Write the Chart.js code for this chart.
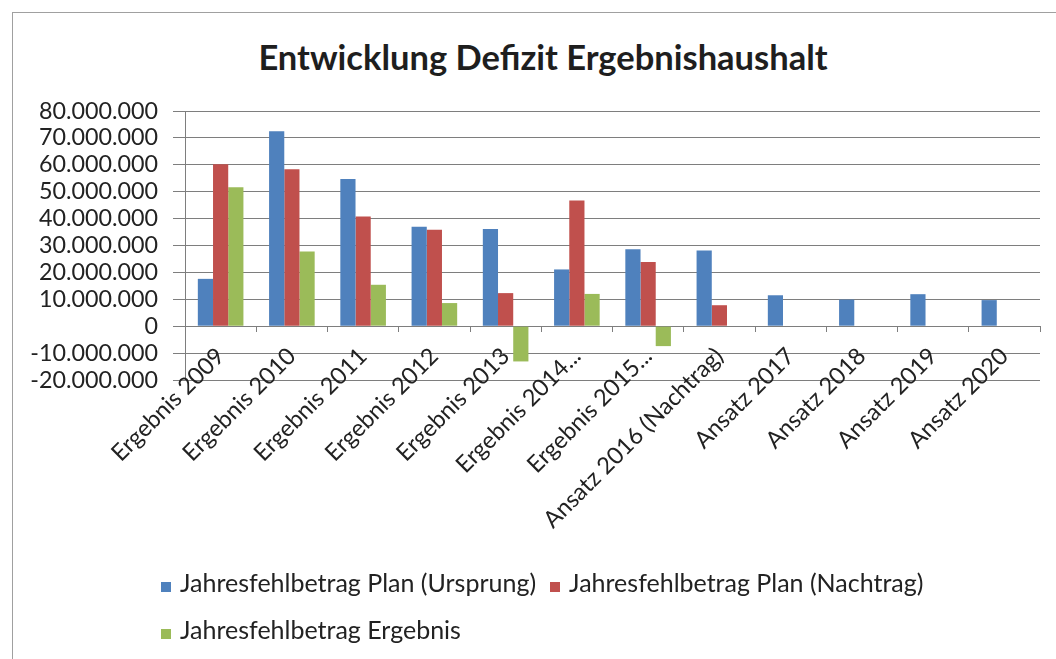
<!DOCTYPE html>
<html lang="de">
<head>
<meta charset="utf-8">
<title>Entwicklung Defizit Ergebnishaushalt</title>
<script src="https://cdn.jsdelivr.net/npm/chart.js@4.4.1/dist/chart.umd.min.js"></script>
<style>
  html, body { margin: 0; padding: 0; background: #fff; }
  #rahmen {
    position: relative; width: 1056px; height: 659px; overflow: hidden;
    font-family: Lato, "Open Sans", sans-serif;
  }
  #linie {
    position: absolute; left: 12px; top: 12px; right: -2px; bottom: -2px;
    border-top: 1px solid #a0a0a0; border-left: 1px solid #a0a0a0;
  }
  #titel {
    position: absolute; left: 43px; width: 1000px; top: 36px; margin: 0;
    text-align: center; font-size: 34.5px; line-height: 42px; font-weight: bold; color: #1e1e1e;
  }
  #diagramm { position: absolute; left: 0; top: 0; width: 1056px; height: 560px; }
  #legende {
    position: absolute; left: 161px; top: 559px; width: 880px;
    font-size: 25px; color: #222; line-height: 47px;
  }
  #legende span.eintrag { margin-right: 14px; white-space: nowrap; }
  #legende span.box {
    display: inline-block; width: 10px; height: 10px; margin-right: 9px;
  }
</style>
</head>
<body>
<div id="rahmen">
  <div id="linie"></div>
  <h1 id="titel">Entwicklung Defizit Ergebnishaushalt</h1>
  <div id="diagramm"><canvas id="grafik"></canvas></div>
  <div id="legende"></div>
</div>
<script>
// Daten
const kategorien = [
  'Ergebnis 2009', 'Ergebnis 2010', 'Ergebnis 2011', 'Ergebnis 2012',
  'Ergebnis 2013', 'Ergebnis 2014...', 'Ergebnis 2015...', 'Ansatz 2016 (Nachtrag)',
  'Ansatz 2017', 'Ansatz 2018', 'Ansatz 2019', 'Ansatz 2020'
];
const planUrsprung = [17600000, 72500000, 54700000, 37000000, 36100000, 21100000, 28600000, 28100000, 11500000, 9900000, 11900000, 9700000];
const planNachtrag = [60200000, 58300000, 40800000, 35900000, 12300000, 46700000, 23900000, 7800000, null, null, null, null];
const ergebnis = [51700000, 27800000, 15400000, 8600000, -13100000, 12000000, -7400000, null, null, null, null, null];
const yTicks = [80000000, 70000000, 60000000, 50000000, 40000000, 30000000, 20000000, 10000000, 0, -10000000, -20000000];

const serienNamen = ['Jahresfehlbetrag Plan (Ursprung)', 'Jahresfehlbetrag Plan (Nachtrag)', 'Jahresfehlbetrag Ergebnis'];
const farben = ['#4f81bd', '#c0504d', '#9bbb59'];

const gitterFarbe = '#7e7e7e';
const schrift = 'Lato, "Open Sans", sans-serif';

function zahlFormat(wert) {
  const s = String(Math.abs(wert)).replace(/\B(?=(\d{3})+(?!\d))/g, '.');
  return (wert < 0 ? '-' : '') + s;
}

const ctx = document.getElementById('grafik').getContext('2d');
const grafik = new Chart(ctx, {
  type: 'bar',
  data: {
    labels: kategorien,
    datasets: [
      { label: serienNamen[0], data: planUrsprung, backgroundColor: farben[0] },
      { label: serienNamen[1], data: planNachtrag, backgroundColor: farben[1] },
      { label: serienNamen[2], data: ergebnis, backgroundColor: farben[2] }
    ]
  },
  options: {
    responsive: true,
    maintainAspectRatio: false,
    animation: false,
    datasets: { bar: { barPercentage: 1, categoryPercentage: 0.64 } },
    layout: { padding: { left: 12, right: 16, top: 111, bottom: 180 } },
    plugins: {
      legend: { display: false },
      tooltip: { enabled: false },
      title: { display: false }
    },
    scales: {
      y: {
        min: -20000000,
        max: 80000000,
        afterFit(scale) { scale.width = 173; },
        afterBuildTicks(scale) { scale.ticks = yTicks.map(v => ({ value: v })); },
        ticks: {
          color: '#222',
          font: { family: schrift, size: 23.3, lineHeight: 1 },
          padding: 15,
          autoSkip: false,
          callback: v => zahlFormat(v)
        },
        grid: { color: gitterFarbe, tickLength: 12, lineWidth: 1 },
        border: { display: true, color: gitterFarbe }
      },
      x: {
        // Kategorienachse kreuzt bei 0 wie in Excel
        position: { y: 0 },
        ticks: {
          color: '#222',
          font: { family: schrift, size: 23.5 },
          minRotation: 45,
          maxRotation: 45,
          autoSkip: false,
          padding: 10
        },
        grid: { color: gitterFarbe, drawOnChartArea: false, drawTicks: true, tickLength: 6, offset: true },
        border: { display: false }
      }
    }
  }
});

// Legende als HTML, damit die zweite Zeile links beginnt wie im Original
const legende = document.getElementById('legende');
grafik.data.datasets.forEach((ds, i) => {
  const eintrag = document.createElement('span');
  eintrag.className = 'eintrag';
  const box = document.createElement('span');
  box.className = 'box';
  box.style.background = ds.backgroundColor;
  eintrag.appendChild(box);
  eintrag.appendChild(document.createTextNode(ds.label));
  legende.appendChild(eintrag);
  if (i === 1) legende.appendChild(document.createElement('br'));
});
</script>
</body>
</html>
